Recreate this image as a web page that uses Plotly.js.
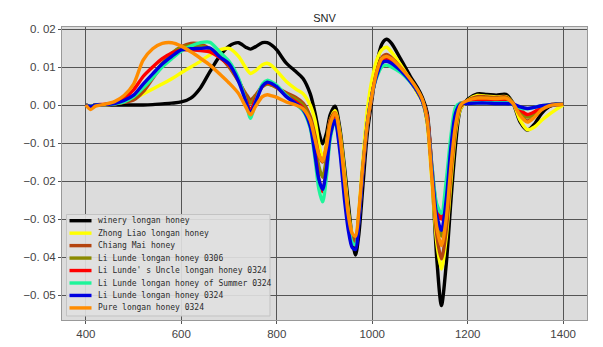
<!DOCTYPE html>
<html>
<head>
<meta charset="utf-8">
<script src="https://cdn.plot.ly/plotly-3.0.1.min.js"></script>
<style>
  body { margin: 0; background: #fff; }
  #myDiv_snv { width: 603px; height: 347px; }
</style>
</head>
<body>
<div id="myDiv_snv"></div>
<script>
// SNV spectra of longan honey samples

var wavelength = [
  400, 410, 420, 440, 460, 480, 500, 520, 540, 560, 580, 600, 620, 640, 660,
  680, 700, 720, 735, 745, 755, 770, 780, 790, 800, 820, 840, 855, 870, 880,
  888, 896, 904, 912, 922, 932, 942, 950, 958, 965, 972, 980, 990, 1000, 1010,
  1020, 1030, 1040, 1060, 1080, 1095, 1105, 1115, 1125, 1135, 1145, 1155,
  1165, 1175, 1185, 1200, 1220, 1240, 1260, 1280, 1295, 1310, 1325, 1340,
  1355, 1370, 1385, 1400,
];

var names = [
  "winery longan honey",
  "Zhong Liao longan honey",
  "Chiang Mai honey",
  "Li Lunde longan honey 0306",
  "Li Lunde' s Uncle longan honey 0324",
  "Li Lunde longan honey of Summer 0324",
  "Li Lunde longan honey 0324",
  "Pure longan honey 0324",
];

var colors = [
  "#000000",
  "#ffff00",
  "#b4440f",
  "#8a8a00",
  "#ff0000",
  "#1ef59a",
  "#0000e0",
  "#ff8c00",
];

var winery = [
  0.0, -0.0003, 0.0, 0.0, 0.0, 0.0, 0.0, 0.0, 0.0001, 0.0003, 0.0005, 0.0008,
  0.0018, 0.0045, 0.0088, 0.0128, 0.0155, 0.0164, 0.0152, 0.0147, 0.0153,
  0.0164, 0.0164, 0.0157, 0.0145, 0.011, 0.0088, 0.007, 0.003, -0.002,
  -0.007, -0.0102, -0.0075, -0.0025, -0.0003, -0.006, -0.0165, -0.026,
  -0.035, -0.0395, -0.034, -0.022, -0.007, 0.002, 0.011, 0.016, 0.0173,
  0.0163, 0.012, 0.0075, 0.0045, 0.002, -0.002, -0.018, -0.04, -0.0528,
  -0.042, -0.025, -0.01, -0.001, 0.0015, 0.0029, 0.0028, 0.0026, 0.0028,
  0.0005, -0.0045, -0.0066, -0.005, -0.0022, -0.0005, 0.0002, 0.0003,
];

var zhongliao = [
  0.0, -0.0003, 0.0, 0.0, 0.0003, 0.0008, 0.0016, 0.0029, 0.0042, 0.0055,
  0.0069, 0.0085, 0.01, 0.0115, 0.0132, 0.0145, 0.0149, 0.0128, 0.0098,
  0.0083, 0.009, 0.0106, 0.011, 0.0103, 0.009, 0.0062, 0.0042, 0.003, 0.0,
  -0.004, -0.01, -0.014, -0.01, -0.004, -0.0015, -0.007, -0.018, -0.028,
  -0.034, -0.0355, -0.028, -0.015, -0.001, 0.007, 0.012, 0.0145, 0.0152,
  0.014, 0.0105, 0.0065, 0.003, 0.001, -0.005, -0.02, -0.036, -0.0432,
  -0.035, -0.02, -0.007, -0.001, 0.0012, 0.0025, 0.0023, 0.0021, 0.0022,
  0.0005, -0.004, -0.0065, -0.0058, -0.004, -0.0025, -0.0012, 0.0,
];

var chiangmai = [
  0.0, -0.0004, 0.0, 0.0001, 0.0003, 0.0007, 0.0013, 0.0035, 0.007, 0.0105,
  0.0135, 0.0153, 0.0162, 0.016, 0.0148, 0.0128, 0.01, 0.0062, 0.003,
  0.0014, 0.0025, 0.005, 0.0056, 0.0052, 0.0046, 0.0032, 0.002, 0.0005,
  -0.003, -0.008, -0.013, -0.015, -0.011, -0.004, -0.002, -0.008, -0.02,
  -0.029, -0.0345, -0.0355, -0.029, -0.017, -0.005, 0.003, 0.009, 0.0125,
  0.0133, 0.0125, 0.0098, 0.0065, 0.0035, 0.0012, -0.003, -0.018, -0.034,
  -0.0405, -0.033, -0.018, -0.006, -0.0005, 0.0012, 0.0022, 0.0021, 0.002,
  0.0021, 0.0005, -0.0025, -0.0042, -0.003, -0.0012, -0.0003, 0.0, 0.0002,
];

var lilunde0306 = [
  0.0, -0.0004, 0.0, 0.0001, 0.0004, 0.001, 0.002, 0.0045, 0.0078, 0.011,
  0.0137, 0.0152, 0.0156, 0.0155, 0.0148, 0.0128, 0.0103, 0.0065, 0.0025,
  0.0005, 0.0022, 0.0048, 0.0055, 0.0052, 0.0045, 0.0028, 0.0015, 0.0,
  -0.004, -0.01, -0.016, -0.019, -0.014, -0.006, -0.003, -0.009, -0.021,
  -0.03, -0.0355, -0.0365, -0.0295, -0.0175, -0.005, 0.003, 0.0085, 0.0115,
  0.012, 0.0115, 0.0092, 0.0062, 0.0035, 0.0012, -0.003, -0.017, -0.03,
  -0.0345, -0.027, -0.014, -0.004, 0.0, 0.001, 0.0018, 0.0018, 0.0017,
  0.0018, 0.0005, -0.0018, -0.0032, -0.0022, -0.0008, 0.0, 0.0002, 0.0002,
];

var uncle0324 = [
  0.0, -0.0004, 0.0, 0.0002, 0.0006, 0.0018, 0.004, 0.0075, 0.01, 0.0122,
  0.0137, 0.0145, 0.0145, 0.0143, 0.014, 0.0125, 0.0105, 0.0065, 0.0018,
  -0.0015, 0.0015, 0.005, 0.0058, 0.0055, 0.0047, 0.0025, 0.0008, -0.0008,
  -0.005, -0.012, -0.0195, -0.0228, -0.017, -0.008, -0.0035, -0.01, -0.022,
  -0.031, -0.036, -0.0368, -0.03, -0.0175, -0.005, 0.003, 0.0085, 0.0115,
  0.0122, 0.0115, 0.0092, 0.0062, 0.0035, 0.0012, -0.003, -0.016, -0.027,
  -0.03, -0.023, -0.011, -0.0025, 0.0005, 0.0008, 0.0012, 0.0012, 0.0012,
  0.0012, 0.0004, -0.0012, -0.0025, -0.0018, -0.0006, 0.0, 0.0002, 0.0002,
];

var summer0324 = [
  0.0, -0.0003, 0.0, 0.0001, 0.0003, 0.0008, 0.0022, 0.0045, 0.0072, 0.01,
  0.0122, 0.0142, 0.0155, 0.0164, 0.0165, 0.014, 0.0115, 0.007, 0.001,
  -0.0035, 0.0005, 0.0055, 0.0065, 0.006, 0.0052, 0.0025, 0.0002, -0.0015,
  -0.006, -0.014, -0.022, -0.0255, -0.019, -0.009, -0.004, -0.011, -0.023,
  -0.0315, -0.0362, -0.0368, -0.03, -0.017, -0.0045, 0.003, 0.0075, 0.01,
  0.0105, 0.01, 0.0085, 0.006, 0.0035, 0.001, -0.004, -0.016, -0.026,
  -0.0285, -0.02, -0.008, -0.0005, 0.0005, 0.0005, 0.0006, 0.0006, 0.0006,
  0.0006, 0.0002, -0.0008, -0.001, -0.0006, -0.0002, 0.0, 0.0002, 0.0002,
];

var lilunde0324 = [
  0.0, -0.0004, 0.0, 0.0001, 0.0004, 0.0012, 0.0026, 0.0055, 0.0082, 0.0108,
  0.0128, 0.0145, 0.0148, 0.0149, 0.015, 0.0127, 0.0108, 0.0062, 0.001,
  -0.0022, 0.0005, 0.005, 0.006, 0.0056, 0.0048, 0.0022, 0.0004, -0.0012,
  -0.0055, -0.013, -0.0195, -0.0222, -0.017, -0.008, -0.004, -0.012, -0.025,
  -0.033, -0.0375, -0.038, -0.031, -0.018, -0.0045, 0.003, 0.008, 0.011,
  0.0115, 0.011, 0.009, 0.0062, 0.0035, 0.001, -0.004, -0.017, -0.029,
  -0.033, -0.025, -0.011, -0.002, 0.0003, 0.0004, 0.0005, 0.0005, 0.0004,
  0.0004, 0.0002, -0.0005, -0.0009, -0.0006, -0.0002, 0.0, 0.0002, 0.0002,
];

var pure0324 = [
  0.0, -0.0012, -0.0003, 0.0002, 0.0009, 0.0025, 0.0055, 0.0118, 0.0148,
  0.0162, 0.0164, 0.0155, 0.014, 0.0123, 0.0105, 0.0082, 0.0058, 0.003,
  -0.0005, -0.0026, -0.0005, 0.0022, 0.0027, 0.0024, 0.002, 0.0008, 0.0,
  -0.001, -0.004, -0.009, -0.013, -0.0148, -0.011, -0.005, -0.002, -0.008,
  -0.02, -0.029, -0.0338, -0.0345, -0.028, -0.0165, -0.0045, 0.003, 0.009,
  0.0122, 0.0128, 0.0122, 0.0098, 0.0068, 0.004, 0.0015, -0.004, -0.019,
  -0.032, -0.037, -0.03, -0.016, -0.005, 0.0, 0.0012, 0.0018, 0.0018,
  0.0017, 0.0018, 0.0004, -0.0028, -0.0045, -0.0032, -0.0012, -0.0002,
  0.0001, 0.0002,
];

var series = [
  winery,
  zhongliao,
  chiangmai,
  lilunde0306,
  uncle0324,
  summer0324,
  lilunde0324,
  pure0324,
];

var xtick_vals = [400, 600, 800, 1000, 1200, 1400];
var ytick_vals = [0.02, 0.01, 0.0, -0.01, -0.02, -0.03, -0.04, -0.05];
var ytick_text = ["0. 02", "0. 01", "0. 00", "\u22120. 01", "\u22120. 02", "\u22120. 03", "\u22120. 04", "\u22120. 05"];

var data_snv = series.map(function (ys, i) {
  return {
    x: wavelength,
    y: ys,
    type: "scatter",
    mode: "lines",
    name: names[i],
    hoverinfo: "none",
    line: { color: colors[i], width: 3.4, shape: "spline", smoothing: 0.8 },
  };
});

// plot area in pixels: left 62, right 587, top 27, bottom 320
function px(x) { return (x - 62) / 525; }
function py(y) { return (320 - y) / 293; }

// hand-made legend, plotly's own rows are too tall for this one
var shapes = [
  {
    type: "rect", xref: "paper", yref: "paper",
    x0: px(66.5), x1: px(270), y0: py(316), y1: py(214.5),
    fillcolor: "rgba(224,224,224,0.92)",
    line: { color: "rgba(195,195,195,1)", width: 1 },
  },
];
var annotations = [];
names.forEach(function (name, i) {
  var rowY = 220.7 + i * 12.46;
  shapes.push({
    type: "line", xref: "paper", yref: "paper",
    x0: px(69.5), x1: px(91.5), y0: py(rowY), y1: py(rowY),
    line: { color: colors[i], width: 3.4 },
  });
  annotations.push({
    xref: "paper", yref: "paper",
    x: px(96), y: py(rowY),
    xanchor: "left", yanchor: "middle",
    text: name,
    showarrow: false,
    font: { family: "DejaVu Sans Mono, monospace", size: 8, color: "#2a2a2a" },
  });
});

var layout_snv = {
  width: 603,
  height: 347,
  margin: { l: 62, r: 16, t: 27, b: 27 },
  paper_bgcolor: "#ffffff",
  plot_bgcolor: "#dcdcdc",
  showlegend: false,
  title: {
    text: "SNV",
    x: 0.5,
    xref: "paper",
    y: 0.947,
    yanchor: "middle",
    font: { family: "Liberation Sans, Arial, sans-serif", size: 11, color: "#222" },
  },
  xaxis: {
    range: [350, 1450],
    tickvals: xtick_vals,
    ticks: "outside",
    ticklen: 3,
    tickcolor: "#555",
    showgrid: true,
    gridcolor: "#555",
    gridwidth: 1,
    zeroline: false,
    showline: true,
    mirror: true,
    linecolor: "#999",
    tickfont: { family: "Liberation Sans, Arial, sans-serif", size: 11.5, color: "#444" },
  },
  yaxis: {
    range: [-0.05658, 0.02053],
    tickvals: ytick_vals,
    ticktext: ytick_text,
    ticks: "outside",
    ticklen: 3,
    tickcolor: "#555",
    showgrid: true,
    gridcolor: "#555",
    gridwidth: 1,
    zeroline: false,
    showline: true,
    mirror: true,
    linecolor: "#999",
    tickfont: { family: "Liberation Sans, Arial, sans-serif", size: 11.5, color: "#444" },
  },
  shapes: shapes,
  annotations: annotations,
};

var config_snv = { displayModeBar: false, staticPlot: true };

Plotly.newPlot("myDiv_snv", data_snv, layout_snv, config_snv);
</script>
</body>
</html>
